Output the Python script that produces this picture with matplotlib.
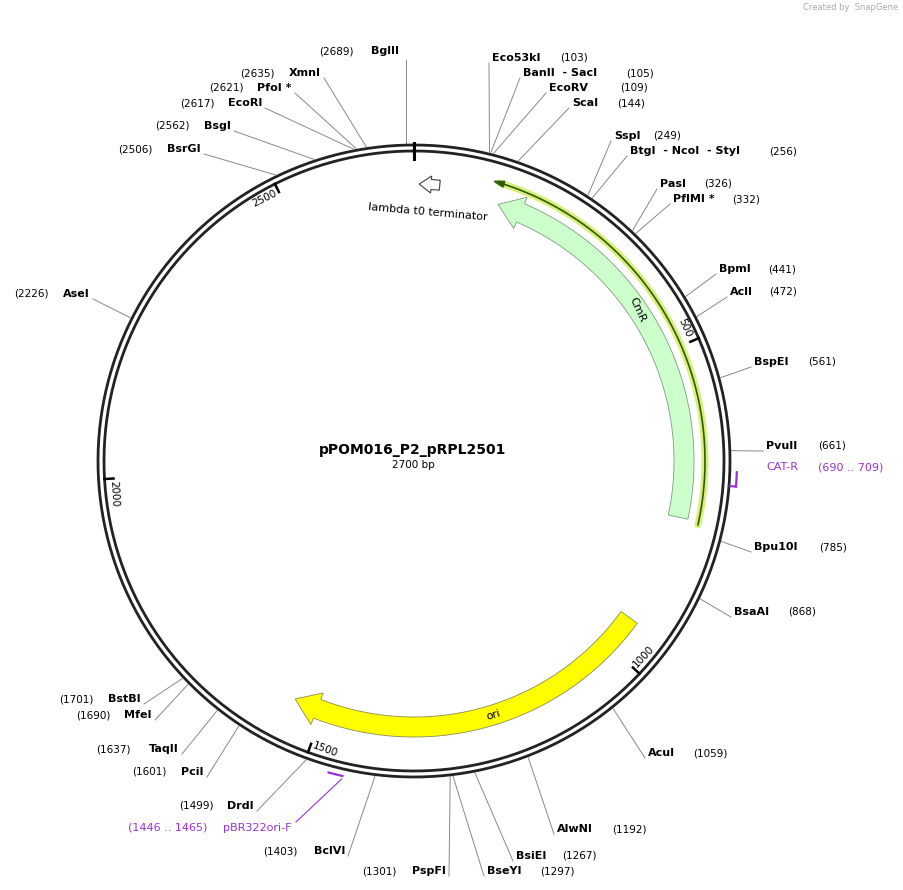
import numpy as np
import matplotlib
matplotlib.use("Agg")
import matplotlib.pyplot as plt
from matplotlib.patches import Polygon

# ---- data -------------------------------------------------------------
plasmid_name = "pPOM016_P2_pRPL2501"
plasmid_len = 2700

enz_names = ["Eco53kI", "BanII  - SacI", "EcoRV", "ScaI", "SspI",
             "BtgI  - NcoI  - StyI", "PasI", "PflMI *", "BpmI", "AclI",
             "BspEI", "PvuII", "Bpu10I", "BsaAI", "AcuI", "AlwNI",
             "BsiEI", "BseYI",
             "PspFI", "BclVI", "DrdI", "PciI", "TaqII", "MfeI", "BstBI",
             "AseI", "BsrGI", "BsgI", "EcoRI", "PfoI *", "XmnI", "BglII"]
enz_pos = [103, 105, 109, 144, 249, 256, 326, 332, 441, 472, 561, 661,
           785, 868, 1059, 1192, 1267, 1297,
           1301, 1403, 1499, 1601, 1637, 1690, 1701, 2226, 2506, 2562,
           2617, 2621, 2635, 2689]

# label layout (pixel coords): right-side labels start at x, left-side end at x
lab_x = [492, 523, 549, 572, 614, 630, 660, 673, 719, 730, 754, 766, 754,
         734, 648, 557, 516, 487,
         446, 345, 254, 204, 179, 152, 141, 90, 201, 231, 262, 292, 321, 399]
lab_y = [58, 73, 88, 103, 136, 151, 184, 199, 269, 292, 362, 446, 547, 612,
         753, 829, 856, 871,
         871, 851, 806, 772, 749, 715, 699, 294, 149, 126, 103, 88, 73, 51]
num_x = [560, 626, 620, 617, 653, 769, 704, 732, 768, 769, 808, 818, 819,
         788, 693, 612, 562, 540,
         362, 263, 179, 132, 96, 76, 59, 14, 118, 155, 180, 209, 240, 319]
n_right = 18

tick_pos = [500, 1000, 1500, 2000, 2500]

# ---- geometry -----------------------------------------------------------
CX, CY = 414, 461
R1, R2 = 310, 316


def pt(p, r):
    t = np.deg2rad(p / plasmid_len * 360.0)
    return CX + r * np.sin(t), CY - r * np.cos(t)


def arc(p0, p1, r, n=120):
    ps = np.linspace(p0, p1, n)
    return np.array([pt(p, r) for p in ps])


def arrow_band(ax, tail, head, r_in, r_out, head_px, fc, ec, lw=0.6):
    rm = (r_in + r_out) / 2
    hp = head_px / (2 * np.pi * rm) * plasmid_len
    sgn = 1 if head > tail else -1
    neck = head - sgn * hp
    w = (r_out - r_in) * 0.35
    outer = arc(tail, neck, r_out)
    inner = arc(neck, tail, r_in)
    headpts = [pt(neck, r_out + w), pt(head, rm), pt(neck, r_in - w)]
    poly = np.vstack([outer, headpts, inner])
    ax.add_patch(Polygon(poly, closed=True, fc=fc, ec=ec, lw=lw, zorder=3))


fig = plt.figure(figsize=(9.04, 8.90), dpi=100)
ax = fig.add_axes([0, 0, 1, 1])
ax.set_xlim(0, 904)
ax.set_ylim(890, 0)
ax.axis("off")

# backbone
for r in (R1, R2):
    c = arc(0, plasmid_len, r, 600)
    ax.plot(c[:, 0], c[:, 1], color="#222222", lw=2.0, zorder=2)

# zero tick
a, b = pt(0, R1 - 8), pt(0, R2 + 2)
ax.plot([a[0], b[0]], [a[1], b[1]], color="black", lw=2.2, zorder=4)

for p in tick_pos:
    a, b = pt(p, R1 - 9), pt(p, R1)
    ax.plot([a[0], b[0]], [a[1], b[1]], color="black", lw=1.8, zorder=4)
    th = p / plasmid_len * 360.0
    rot = -th
    rot = (rot + 180) % 360 - 180
    if abs(rot) > 90:
        rot += 180
    x, y = pt(p - 22, R1 - 8)
    ax.text(x, y, str(p), rotation=rot, ha="center", va="center",
            fontsize=7.5, rotation_mode="anchor", zorder=5)

# features
arrow_band(ax, 765, 136, 260, 280, 24, "#ccffcc", "#7d9c7d")
arrow_band(ax, 945, 1549, 256, 276, 24, "#ffff00", "#8a8a55")
arrow_band(ax, 40, 8, 272, 282, 12, "white", "#444444", lw=0.8)

# CAT highlight line
cat = arc(770, 128, 291)
ax.plot(cat[:, 0], cat[:, 1], color="#d8f07a", lw=5, zorder=3,
        solid_capstyle="round")
ax.plot(cat[:, 0], cat[:, 1], color="#2f5a10", lw=1.2, zorder=4)
hp = [pt(120, 291), pt(135, 294), pt(135, 288)]
ax.add_patch(Polygon(hp, closed=True, fc="#2f5a10", ec="#2f5a10", zorder=4))

# feature labels
x, y = pt(420, 270)
ax.text(x, y, "CmR", rotation=-66, ha="center", va="center", fontsize=8,
        rotation_mode="anchor", zorder=5)
x, y = pt(1220, 266)
ax.text(x, y, "ori", rotation=17, ha="center", va="center", fontsize=8,
        rotation_mode="anchor", zorder=5)
ax.text(428, 212, "lambda t0 terminator", rotation=-5, ha="center",
        va="center", fontsize=8, zorder=5)

# primers
purple = "#9b30d9"
pr = arc(690, 709, 323)
ax.plot(pr[:, 0], pr[:, 1], color=purple, lw=1.6, zorder=4)
a, b = pt(709, 323), pt(709, 317)
ax.plot([a[0], b[0]], [a[1], b[1]], color=purple, lw=1.6)
pr = arc(1446, 1465, 323)
ax.plot(pr[:, 0], pr[:, 1], color=purple, lw=1.6, zorder=4)
a = pt(1446, 326)
ax.plot([a[0], 296], [a[1], 822], color=purple, lw=0.8)
ax.text(766, 467, "CAT-R", color=purple, fontsize=8, va="center")
ax.text(818, 467, "(690 .. 709)", color=purple, fontsize=8, va="center")
ax.text(292, 828, "pBR322ori-F", color=purple, fontsize=8, va="center",
        ha="right")
ax.text(128, 828, "(1446 .. 1465)", color=purple, fontsize=8, va="center")

# enzymes
for i, (nm, p) in enumerate(zip(enz_names, enz_pos)):
    right = i < n_right
    a = pt(p, R2 + 2)
    y = lab_y[i]
    if right:
        end = (lab_x[i] - 3, y + 5)
        ax.text(lab_x[i], y, nm, fontsize=8, fontweight="bold", va="center")
    else:
        end = (lab_x[i] + 3, y + 5)
        ax.text(lab_x[i], y, nm, fontsize=8, fontweight="bold", va="center",
                ha="right")
    if nm == "BglII":  # vertical leader
        end = (a[0], y + 9)
    ax.plot([a[0], end[0]], [a[1], end[1]], color="#888888", lw=0.7,
            zorder=1)
    ax.text(num_x[i], y, "(%d)" % p, fontsize=7.5, va="center")

# centre text
ax.text(413, 450, plasmid_name, ha="center", va="center", fontsize=10,
        fontweight="bold")
ax.text(413, 465, "%d bp" % plasmid_len, ha="center", va="center",
        fontsize=7.5)
ax.text(898, 8, "Created by  SnapGene", ha="right", va="center", fontsize=6,
        color="#aaaaaa")

fig.savefig("out.png", dpi=100)
